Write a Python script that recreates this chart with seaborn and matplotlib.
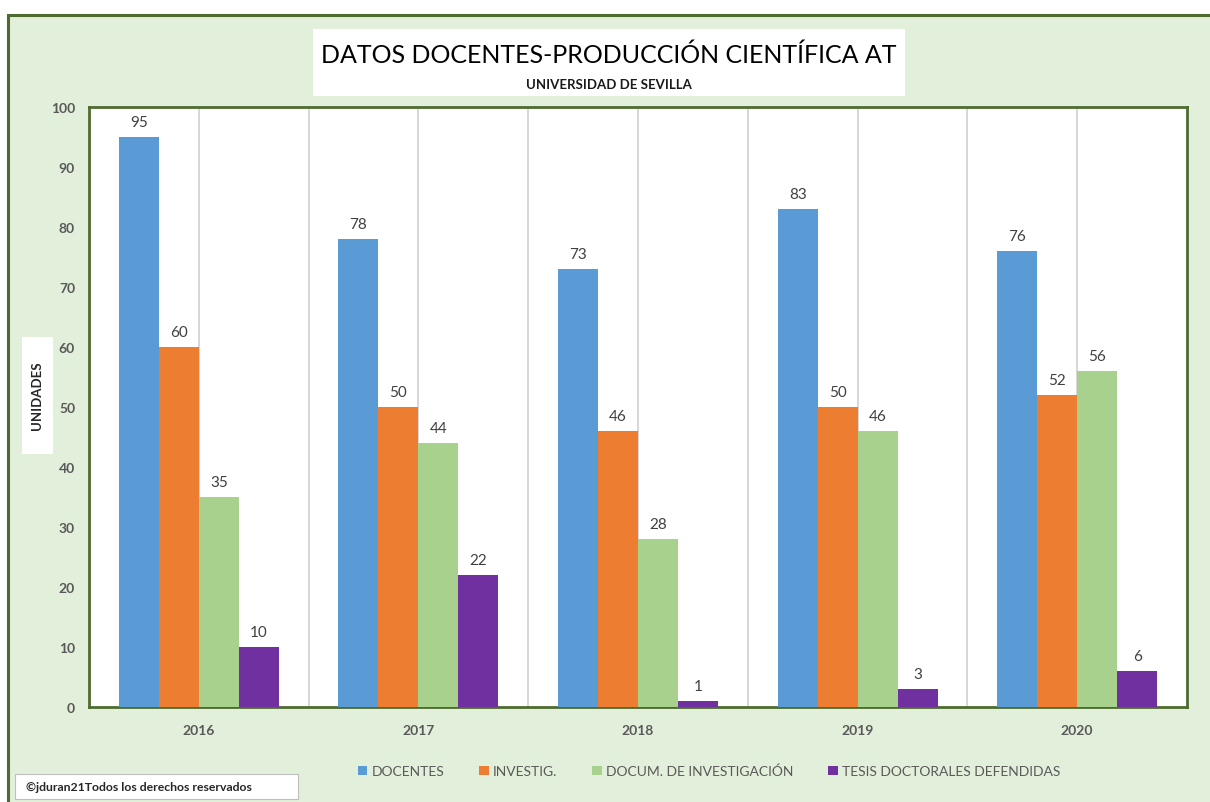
import numpy as np
import pandas as pd
import matplotlib
matplotlib.use("Agg")
import matplotlib.pyplot as plt
from matplotlib.patches import Rectangle, Patch
import seaborn as sns

# Data
years = ["2016", "2017", "2018", "2019", "2020"]
series_names = ["DOCENTES", "INVESTIG.", "DOCUM. DE INVESTIGACIÓN", "TESIS DOCTORALES DEFENDIDAS"]
docentes = [95, 78, 73, 83, 76]
investig = [60, 50, 46, 50, 52]
docum = [35, 44, 28, 46, 56]
tesis = [10, 22, 1, 3, 6]
y_ticks = list(range(0, 101, 10))

colors = ["#5B9BD5", "#ED7D31", "#A9D18E", "#7030A0"]
bg_green = "#E2EFDA"
frame_green = "#4E6B30"
tick_gray = "#595959"

rows = []
for name, vals in zip(series_names, [docentes, investig, docum, tesis]):
    for yr, v in zip(years, vals):
        rows.append({"year": yr, "serie": name, "valor": v})
df = pd.DataFrame(rows)

sns.set_theme(style="white")
plt.rcParams["font.family"] = ["Lato", "DejaVu Sans"]

W, H = 1210, 803
fig = plt.figure(figsize=(W / 100, H / 100), dpi=100)
fig.patch.set_facecolor("white")


def px_rect(x0, y0, x1, y1, **kw):
    """Rectangle given in pixel coordinates measured from the top-left corner."""
    r = Rectangle((x0 / W, 1 - y1 / H), (x1 - x0) / W, (y1 - y0) / H,
                  transform=fig.transFigure, **kw)
    fig.patches.append(r)
    return r


# Outer chart frame
fig.patches.append(Rectangle((8 / W, -0.05), 1.1, 1 - 16 / H + 0.05,
                             transform=fig.transFigure, facecolor=bg_green,
                             edgecolor=frame_green, linewidth=2.2, zorder=0))

# Title box
px_rect(313, 30, 905, 97, facecolor="white", edgecolor="none", zorder=1)
fig.text(609 / W, 1 - 55 / H, "DATOS DOCENTES-PRODUCCIÓN CIENTÍFICA AT",
         ha="center", va="center", fontsize=18, color="black", zorder=2)
fig.text(609 / W, 1 - 85 / H, "UNIVERSIDAD DE SEVILLA", ha="center", va="center",
         fontsize=9.5, fontweight="bold", color="#1a1a1a", zorder=2)

ax = fig.add_axes([89 / W, 1 - 708 / H, (1187 - 89) / W, (708 - 108) / H], zorder=3)
ax.set_facecolor("white")

sns.barplot(data=df, x="year", y="valor", hue="serie", hue_order=series_names,
            palette=colors, width=0.728, gap=0, saturation=1, ax=ax,
            edgecolor="none", linewidth=0, legend=False, zorder=3)

ax.set_xlim(-0.5, 4.5)
ax.set_ylim(0, 100)
ax.set_yticks(y_ticks)
ax.set_yticklabels([str(t) for t in y_ticks])

# vertical gridlines every half category
for xv in np.arange(0, 4.01, 0.5):
    ax.axvline(xv, color="#D0D0D0", linewidth=1.2, zorder=1)

for c in ax.containers:
    ax.bar_label(c, padding=6, fontsize=11, color="#404040")

ax.tick_params(axis="both", length=0, labelsize=10, colors=tick_gray)
ax.tick_params(axis="y", pad=10)
ax.tick_params(axis="x", pad=12)
for lbl in ax.get_xticklabels() + ax.get_yticklabels():
    lbl.set_fontweight("bold")
ax.set_xlabel("")
ax.set_ylabel("")
for s in ax.spines.values():
    s.set_color(frame_green)
    s.set_linewidth(2)

# Axis title in a white box
px_rect(22, 338, 53, 455, facecolor="white", edgecolor="none", zorder=4)
fig.text(37.5 / W, 1 - 396 / H, "UNIDADES", rotation=90, ha="center", va="center",
         fontsize=9.5, fontweight="bold", color="#262626", zorder=5)

# Legend
handles = [Patch(facecolor=c, edgecolor="none") for c in colors]
fig.legend(handles, series_names, loc="center", bbox_to_anchor=(709 / W, 1 - 772 / H),
           ncol=4, frameon=False, fontsize=10, handlelength=0.7, handleheight=0.7,
           handletextpad=0.3, columnspacing=2.5, labelcolor=tick_gray)

# Copyright note
px_rect(15, 775, 298, 800, facecolor="white", edgecolor="#BFBFBF", linewidth=0.8, zorder=4)
fig.text(26 / W, 1 - 788 / H, "©jduran21Todos los derechos reservados",
         ha="left", va="center", fontsize=8.8, fontweight="bold", color="#262626",
         zorder=5)

fig.savefig("out.png", dpi=100, facecolor=fig.get_facecolor())
